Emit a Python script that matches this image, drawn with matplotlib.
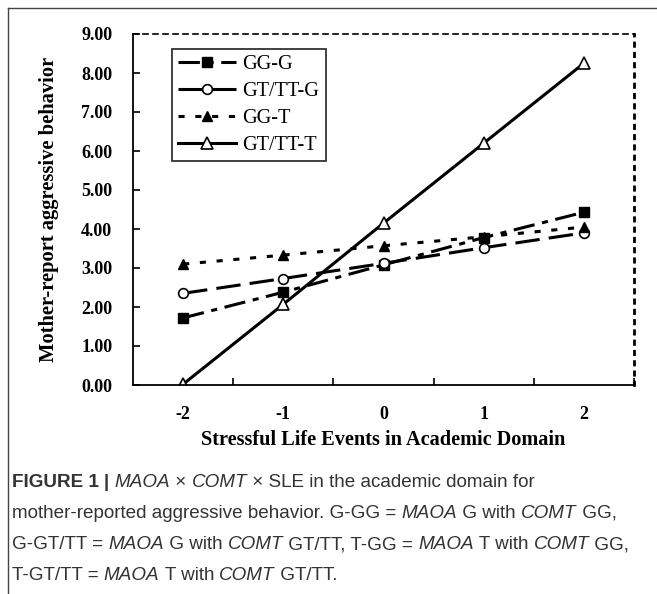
import matplotlib
matplotlib.use('Agg')
import matplotlib.pyplot as plt

# datos
sle = [-2, -1, 0, 1, 2]
gg_g = [1.72, 2.38, 3.08, 3.78, 4.43]
gttt_g = [2.35, 2.73, 3.12, 3.52, 3.90]
gg_t = [3.10, 3.33, 3.57, 3.80, 4.05]
gttt_t = [0.02, 2.07, 4.15, 6.20, 8.25]
series_names = ['GG-G', 'GT/TT-G', 'GG-T', 'GT/TT-T']
yticks = [0, 1, 2, 3, 4, 5, 6, 7, 8, 9]

W, H = 657, 594
fig = plt.figure(figsize=(W / 100, H / 100), dpi=100)
ax = fig.add_axes([133 / W, 1 - 385 / H, (634 - 133) / W, (385 - 34) / H])

serif = 'Liberation Serif'
lw = 2.2
ax.plot(sle, gg_g, color='black', lw=lw, dashes=(7, 2.5, 2, 2.5), marker='s', ms=7,
        mfc='black', mec='black', label=series_names[0])
ax.plot(sle, gttt_g, color='black', lw=lw, dashes=(8, 3), marker='o', ms=7,
        mfc='white', mec='black', mew=1.2, label=series_names[1])
ax.plot(sle, gg_t, color='black', lw=lw, dashes=(2, 3.5), marker='^', ms=7,
        mfc='black', mec='black', label=series_names[2])
ax.plot(sle, gttt_t, color='black', lw=lw, linestyle='-', marker='^', ms=8,
        mfc='white', mec='black', mew=1.2, label=series_names[3])

ax.set_xlim(-2.5, 2.5)
ax.set_ylim(0, 9)
ax.set_xticks(sle)
ax.set_xticklabels(['-2', '-1', '0', '1', '2'])
ax.set_xticks([-1.5, -0.5, 0.5, 1.5, 2.5], minor=True)
ax.tick_params(axis='x', which='major', length=0, pad=15)
ax.tick_params(axis='x', which='minor', length=5, width=1.2, direction='in')
ax.set_yticks(yticks)
ax.set_yticklabels(['%.2f' % v for v in yticks])
ax.tick_params(axis='y', length=5, width=1.2, direction='in', pad=15)
for lab in ax.get_xticklabels() + ax.get_yticklabels():
    lab.set_fontfamily(serif)
    lab.set_fontweight('bold')
    lab.set_fontsize(13)

ax.spines['left'].set_linewidth(1.3)
ax.spines['bottom'].set_linewidth(1.3)
ax.spines['top'].set_linestyle((0, (3, 3)))
ax.spines['top'].set_linewidth(1.2)
ax.spines['right'].set_linestyle((0, (1.2, 2.5)))
ax.spines['right'].set_linewidth(2)

ax.set_xlabel('Stressful Life Events in Academic Domain', fontfamily=serif,
              fontweight='bold', fontsize=14.6, labelpad=5)
ax.set_ylabel('Mother-report aggressive behavior', fontfamily=serif,
              fontweight='bold', fontsize=14.8, labelpad=16)

leg = ax.legend(loc='upper left', bbox_to_anchor=(0.077, 0.957), frameon=True,
                fancybox=False, edgecolor='black', handlelength=2.9,
                handletextpad=0.3, borderpad=0.3, labelspacing=0.38,
                borderaxespad=0, prop={'family': serif, 'size': 14.6})
leg.get_frame().set_linewidth(1.3)

# marco exterior
fig.add_artist(plt.Line2D([8 / W, 8 / W], [0, 1 - 8 / H], color='#444444', lw=1,
                          transform=fig.transFigure))
fig.add_artist(plt.Line2D([8 / W, 1], [1 - 8 / H, 1 - 8 / H], color='#444444', lw=1,
                          transform=fig.transFigure))

# leyenda de la figura con cursivas
caption = [
    [('FIGURE 1 ', 'bold'), ('| ', 'bold'), ('MAOA', 'italic'), (' × ', 'normal'),
     ('COMT', 'italic'), (' × SLE in the academic domain for', 'normal')],
    [('mother-reported aggressive behavior. G-GG = ', 'normal'), ('MAOA', 'italic'),
     (' G with ', 'normal'), ('COMT', 'italic'), (' GG,', 'normal')],
    [('G-GT/TT = ', 'normal'), ('MAOA', 'italic'), (' G with ', 'normal'),
     ('COMT', 'italic'), (' GT/TT, T-GG = ', 'normal'), ('MAOA', 'italic'),
     (' T with ', 'normal'), ('COMT', 'italic'), (' GG,', 'normal')],
    [('T-GT/TT = ', 'normal'), ('MAOA', 'italic'), (' T with ', 'normal'),
     ('COMT', 'italic'), (' GT/TT.', 'normal')],
]
renderer = fig.canvas.get_renderer()
y0 = 487
for line in caption:
    x = 12
    for txt, style in line:
        kw = {'fontweight': 'bold'} if style == 'bold' else {}
        if style == 'italic':
            kw['fontstyle'] = 'italic'
        t = fig.text(x / W, 1 - y0 / H, txt, fontfamily='Liberation Sans', fontsize=13.6,
                     color='#333333', va='baseline', ha='left', **kw)
        bb = t.get_window_extent(renderer)
        x = bb.x1
    y0 += 31

fig.savefig('out.png', dpi=100)
